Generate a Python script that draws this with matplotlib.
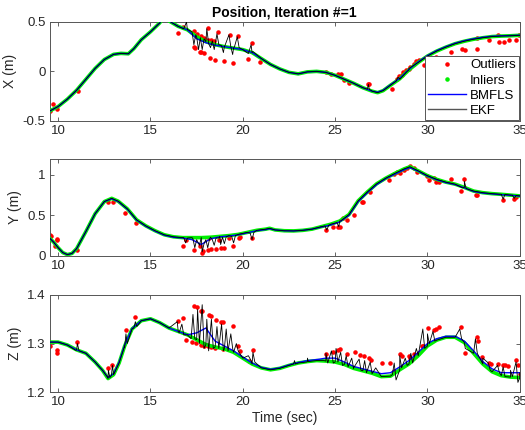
import numpy as np
import matplotlib
matplotlib.use('Agg')
import matplotlib.pyplot as plt
from matplotlib.lines import Line2D

plt.rcParams['font.family'] = ['Liberation Sans', 'DejaVu Sans']
plt.rcParams['axes.unicode_minus'] = False

# Traiettoria filtrata (inliers) per ogni asse
tx = [9.55, 10.0, 10.5, 11.0, 11.5, 12.0, 12.5, 13.0, 13.4, 13.8, 14.1, 14.5, 15.0, 15.5,
      15.75, 16.0, 16.5, 17.0, 17.5, 18.0, 18.5, 19.0, 19.5, 20.0, 20.5, 21.0, 21.5, 22.0,
      22.5, 23.0, 23.5, 24.0, 24.5, 25.0, 25.5, 26.0, 26.5, 27.0, 27.3, 27.6, 28.0, 28.5,
      29.0, 29.5, 30.0, 30.5, 31.0, 31.5, 32.0, 32.5, 33.0, 33.5, 34.0, 34.5, 35.0]
x_in = [-0.40, -0.355, -0.28, -0.19, -0.08, 0.03, 0.12, 0.172, 0.182, 0.178, 0.23, 0.32,
        0.40, 0.49, 0.56, 0.51, 0.455, 0.42, 0.35, 0.30, 0.27, 0.25, 0.235, 0.22, 0.19,
        0.13, 0.07, 0.025, -0.01, -0.025, -0.005, 0.0, -0.01, -0.04, -0.08, -0.12, -0.165,
        -0.2, -0.215, -0.195, -0.14, -0.075, 0.015, 0.09, 0.155, 0.205, 0.245, 0.28, 0.305,
        0.325, 0.34, 0.352, 0.357, 0.36, 0.365]
x_bm = [-0.40, -0.355, -0.28, -0.19, -0.08, 0.03, 0.12, 0.172, 0.182, 0.178, 0.23, 0.32,
        0.40, 0.49, 0.56, 0.51, 0.455, 0.42, 0.33, 0.29, 0.265, 0.25, 0.235, 0.22, 0.19,
        0.13, 0.07, 0.025, -0.01, -0.025, -0.005, 0.0, -0.01, -0.04, -0.08, -0.12, -0.165,
        -0.2, -0.21, -0.19, -0.135, -0.07, 0.02, 0.095, 0.16, 0.21, 0.25, 0.285, 0.31,
        0.33, 0.345, 0.355, 0.36, 0.362, 0.366]

ty = [9.55, 9.75, 10.0, 10.25, 10.5, 10.75, 11.0, 11.5, 12.0, 12.5, 12.9, 13.25, 13.75,
      14.25, 14.75, 15.25, 15.75, 16.25, 16.75, 17.25, 17.75, 18.25, 18.75, 19.25, 19.75,
      20.25, 20.75, 21.25, 21.45, 21.75, 22.25, 22.75, 23.25, 23.75, 24.25, 24.75, 25.25,
      25.75, 26.25, 26.75, 27.25, 27.75, 28.25, 28.75, 29.05, 29.5, 30.0, 30.5, 31.0, 31.5,
      32.0, 32.5, 33.0, 33.5, 34.0, 34.5, 35.0]
y_in = [0.216, 0.17, 0.10, 0.04, 0.015, 0.03, 0.09, 0.30, 0.52, 0.67, 0.71, 0.675, 0.58,
        0.445, 0.37, 0.31, 0.26, 0.235, 0.225, 0.225, 0.225, 0.23, 0.24, 0.25, 0.265, 0.29,
        0.315, 0.33, 0.34, 0.32, 0.31, 0.308, 0.315, 0.33, 0.36, 0.39, 0.43, 0.51, 0.68,
        0.79, 0.89, 0.96, 1.02, 1.075, 1.10, 1.05, 0.99, 0.945, 0.91, 0.885, 0.845, 0.80,
        0.78, 0.768, 0.76, 0.75, 0.74]
y_bm = [0.216, 0.17, 0.10, 0.04, 0.015, 0.03, 0.09, 0.30, 0.52, 0.67, 0.705, 0.67, 0.575,
        0.44, 0.365, 0.305, 0.255, 0.23, 0.22, 0.20, 0.14, 0.21, 0.235, 0.245, 0.26, 0.285,
        0.31, 0.325, 0.335, 0.32, 0.31, 0.308, 0.315, 0.33, 0.355, 0.38, 0.42, 0.50, 0.67,
        0.78, 0.88, 0.955, 1.01, 1.065, 1.09, 1.045, 0.985, 0.94, 0.905, 0.88, 0.84, 0.795,
        0.775, 0.765, 0.755, 0.748, 0.738]

tz = [9.55, 10.0, 10.5, 11.0, 11.5, 12.0, 12.4, 12.7, 13.0, 13.3, 13.6, 14.0, 14.5, 15.0,
      15.5, 16.0, 16.5, 17.0, 17.5, 18.0, 18.5, 19.0, 19.5, 20.0, 20.5, 21.0, 21.5, 22.0,
      22.5, 23.0, 23.5, 24.0, 24.5, 25.0, 25.5, 26.0, 26.5, 27.0, 27.5, 28.0, 28.5, 29.0,
      29.5, 30.0, 30.5, 31.0, 31.5, 32.0, 32.5, 33.0, 33.5, 34.0, 34.5, 35.0]
z_in = [1.303, 1.303, 1.297, 1.287, 1.28, 1.262, 1.245, 1.228, 1.236, 1.26, 1.295, 1.33,
        1.347, 1.351, 1.343, 1.332, 1.325, 1.318, 1.308, 1.298, 1.293, 1.289, 1.282, 1.27,
        1.258, 1.25, 1.246, 1.249, 1.255, 1.26, 1.263, 1.265, 1.264, 1.262, 1.257, 1.249,
        1.244, 1.239, 1.232, 1.233, 1.246, 1.258, 1.275, 1.295, 1.307, 1.313, 1.313, 1.302,
        1.28, 1.258, 1.242, 1.234, 1.231, 1.230]
z_bm = [1.303, 1.303, 1.297, 1.287, 1.28, 1.262, 1.245, 1.23, 1.238, 1.262, 1.297, 1.331,
        1.347, 1.351, 1.343, 1.332, 1.325, 1.318, 1.322, 1.332, 1.305, 1.295, 1.285, 1.272,
        1.26, 1.251, 1.247, 1.25, 1.256, 1.261, 1.265, 1.267, 1.27, 1.27, 1.262, 1.253,
        1.248, 1.243, 1.238, 1.24, 1.252, 1.265, 1.282, 1.3, 1.31, 1.315, 1.315, 1.305,
        1.285, 1.263, 1.248, 1.24, 1.24, 1.24]

# Outliers (tempo, valore)
x_out_t = [9.55, 9.73, 9.95, 11.06, 16.5, 16.78, 17.36, 17.4, 17.68, 17.75, 17.9, 18.12,
           18.23, 18.5, 18.66, 18.96, 19.32, 19.48, 19.75, 20.3, 20.49, 20.95, 17.36, 17.54,
           17.72, 17.9, 18.09, 18.27, 18.45, 24.53, 24.8, 25.13, 25.3, 25.5, 25.75, 26.77,
           26.85, 28.08, 28.35, 28.44, 28.62, 28.7, 28.84, 28.98, 29.07, 29.26, 29.38,
           29.53, 29.8, 30.44, 31.25, 31.85, 32.04, 32.7, 32.7, 33.34, 33.8, 33.9, 34.16,
           34.43, 34.8, 34.98]
x_out_v = [-0.405, -0.327, -0.378, -0.2, 0.39, 0.45, 0.246, 0.24, 0.196, 0.2, 0.19, 0.44,
           0.139, 0.118, 0.40, 0.11, 0.37, 0.084, 0.355, 0.128, 0.287, 0.094, 0.405, 0.38,
           0.355, 0.337, 0.32, 0.314, 0.304, -0.007, -0.024, -0.03, -0.03, -0.084, -0.118,
           -0.132, -0.132, -0.176, -0.074, -0.05, -0.04, -0.007, 0.01, 0.027, 0.044, 0.078,
           0.104, 0.118, 0.06, 0.145, 0.196, 0.23, 0.22, 0.23, 0.34, 0.314, 0.365, 0.297,
           0.297, 0.314, 0.32, 0.365]

y_out_t = [9.55, 9.6, 9.82, 9.93, 9.96, 11.04, 12.72, 12.96, 13.63, 14.2, 16.78, 16.9,
           17.37, 17.69, 17.8, 17.85, 18.09, 18.17, 18.3, 18.54, 18.72, 18.81, 18.99, 19.23,
           19.45, 19.8, 19.85, 20.49, 24.53, 24.9, 25.17, 25.25, 25.4, 25.62, 26.04, 26.44,
           26.5, 26.9, 27.9, 28.17, 28.35, 28.5, 28.71, 28.89, 29.07, 29.26, 29.44, 29.98,
           30.07, 30.35, 30.44, 30.62, 31.26, 31.8, 31.99, 32.62, 32.7, 34.07, 34.7, 34.8]
y_out_v = [0.256, 0.24, 0.122, 0.204, 0.19, 0.073, 0.67, 0.67, 0.53, 0.41, 0.122, 0.195,
           0.073, 0.122, 0.033, 0.06, 0.073, 0.216, 0.085, 0.085, 0.195, 0.094, 0.094, 0.216,
           0.122, 0.216, 0.235, 0.223, 0.325, 0.357, 0.357, 0.36, 0.47, 0.44, 0.5, 0.66,
           0.67, 0.785, 0.935, 1.008, 1.03, 1.02, 1.057, 1.09, 1.11, 1.08, 1.04, 0.988,
           0.935, 0.96, 0.918, 0.906, 0.947, 0.805, 0.955, 0.756, 0.75, 0.69, 0.70, 0.73]

z_out_t = [9.55, 9.91, 9.95, 11.04, 12.72, 12.94, 13.67, 14.18, 16.49, 16.76, 16.9, 17.36,
           17.54, 17.72, 17.8, 18.17, 18.3, 18.54, 18.81, 18.95, 19.45, 17.27, 17.45, 17.72,
           17.9, 18.1, 18.3, 18.5, 18.95, 19.72, 19.86, 20.35, 20.54, 24.53, 24.9, 25.17,
           25.25, 25.62, 26.08, 26.35, 26.59, 26.81, 26.96, 27.54, 27.99, 28.17, 28.53,
           28.6, 28.99, 29.05, 29.26, 29.35, 29.71, 29.75, 30.04, 30.35, 30.45, 30.65, 31.8,
           32.04, 32.7, 32.75, 32.98, 33.34, 33.45, 33.8, 34.07, 34.2, 34.35, 34.77, 34.9,
           35.0]
z_out_v = [1.296, 1.286, 1.28, 1.304, 1.25, 1.256, 1.327, 1.354, 1.346, 1.353, 1.308, 1.378,
           1.375, 1.367, 1.368, 1.359, 1.357, 1.349, 1.344, 1.344, 1.337, 1.303, 1.301, 1.298,
           1.296, 1.294, 1.292, 1.29, 1.288, 1.294, 1.284, 1.265, 1.286, 1.279, 1.282, 1.287,
           1.289, 1.279, 1.282, 1.277, 1.275, 1.27, 1.266, 1.26, 1.26, 1.244, 1.279, 1.275,
           1.275, 1.27, 1.279, 1.275, 1.294, 1.296, 1.332, 1.328, 1.331, 1.334, 1.334, 1.28,
           1.313, 1.305, 1.272, 1.261, 1.258, 1.258, 1.255, 1.255, 1.253, 1.266, 1.255, 1.238]

# Tratti rumorosi dell'EKF (si aggiungono alla traiettoria)
ekf_x_t = [16.8, 16.95, 17.05, 17.25, 17.35, 17.45, 17.6, 17.7, 17.8, 17.9, 18.05, 18.15,
           18.25, 18.35, 18.45, 18.6, 18.7, 18.85, 18.95, 19.05, 19.25, 19.35, 19.45, 19.55,
           19.7, 19.8, 20.3, 20.45, 20.55, 26.75, 26.8, 26.85, 28.3, 28.4, 28.5, 28.9, 29.0]
ekf_x_v = [0.43, 0.50, 0.42, 0.40, 0.27, 0.37, 0.22, 0.34, 0.22, 0.33, 0.43, 0.28, 0.24,
           0.31, 0.22, 0.38, 0.27, 0.26, 0.19, 0.27, 0.37, 0.25, 0.17, 0.25, 0.35, 0.24,
           0.18, 0.27, 0.2, -0.18, -0.13, -0.18, -0.10, -0.06, -0.08, 0.0, 0.03]
ekf_y_t = [16.8, 16.9, 17.0, 17.3, 17.4, 17.5, 17.65, 17.8, 17.9, 18.0, 18.1, 18.2, 18.35,
           18.45, 18.55, 18.7, 18.8, 18.9, 19.0, 19.1, 19.4, 19.5, 19.6, 20.4, 20.5, 20.6,
           24.45, 24.55, 24.65, 25.1, 25.2, 25.3, 31.9, 32.0, 32.1, 34.0, 34.1, 34.2, 34.6,
           34.7, 34.8]
ekf_y_v = [0.225, 0.16, 0.22, 0.21, 0.10, 0.2, 0.13, 0.05, 0.15, 0.2, 0.10, 0.21, 0.2,
           0.13, 0.22, 0.22, 0.14, 0.23, 0.15, 0.235, 0.24, 0.16, 0.25, 0.28, 0.2, 0.29,
           0.37, 0.32, 0.375, 0.41, 0.36, 0.43, 0.84, 0.92, 0.83, 0.76, 0.70, 0.76, 0.75,
           0.71, 0.745]
ekf_z_t = [10.95, 11.04, 11.13, 12.65, 12.72, 12.8, 12.88, 12.94, 13.0, 13.6, 13.67, 13.74,
           14.1, 14.18, 14.26, 16.45, 16.55, 16.7, 16.8, 17.2, 17.3, 17.4, 17.55, 17.65,
           17.8, 17.9, 18.05, 18.15, 18.3, 18.4, 18.6, 18.7, 18.85, 18.95, 19.1, 19.2,
           19.35, 19.45, 19.65, 19.75, 20.3, 20.45, 20.55, 20.65, 22.75, 22.8, 22.85,
           23.45, 23.5, 23.55, 24.4, 24.5, 24.6, 24.8, 24.9, 25.05, 25.15, 25.3, 25.4, 25.6,
           25.7, 25.9, 26.0, 26.3, 26.4, 26.6, 26.7, 26.9, 27.0, 27.2, 28.1, 28.2, 28.3,
           28.5, 28.6, 28.8, 28.9, 29.1, 29.2, 29.4, 29.5, 29.75, 29.85, 30.0, 30.1, 30.3,
           30.4, 31.75, 31.85, 32.05, 32.6, 32.7, 33.0, 33.3, 33.4, 33.8, 33.9, 34.1, 34.2,
           34.5, 34.6, 34.8, 34.9, 35.0]
ekf_z_v = [1.286, 1.30, 1.285, 1.232, 1.245, 1.23, 1.234, 1.255, 1.236, 1.292, 1.32, 1.30,
           1.332, 1.345, 1.335, 1.345, 1.322, 1.34, 1.318, 1.31, 1.36, 1.31, 1.37, 1.30,
           1.38, 1.29, 1.35, 1.285, 1.35, 1.29, 1.335, 1.29, 1.34, 1.285, 1.33, 1.285, 1.32,
           1.29, 1.30, 1.285, 1.275, 1.265, 1.282, 1.262, 1.258, 1.265, 1.258, 1.262, 1.27,
           1.263, 1.265, 1.28, 1.26, 1.285, 1.26, 1.29, 1.262, 1.282, 1.255, 1.275, 1.252,
           1.27, 1.25, 1.268, 1.245, 1.265, 1.24, 1.262, 1.238, 1.25, 1.236, 1.26, 1.225,
           1.275, 1.25, 1.27, 1.255, 1.28, 1.26, 1.29, 1.275, 1.33, 1.29, 1.32, 1.3, 1.325,
           1.305, 1.33, 1.31, 1.29, 1.31, 1.28, 1.27, 1.26, 1.245, 1.255, 1.24, 1.252, 1.232,
           1.245, 1.232, 1.262, 1.22, 1.24]


def merge(t1, v1, t2, v2):
    t = np.concatenate([t1, t2])
    v = np.concatenate([v1, v2])
    idx = np.argsort(t, kind='stable')
    return t[idx], v[idx]


assi = [
    (tx, x_in, x_bm, x_out_t, x_out_v, ekf_x_t, ekf_x_v, 'X (m)', (-0.5, 0.5), [-0.5, 0, 0.5], ['-0.5', '0', '0.5']),
    (ty, y_in, y_bm, y_out_t, y_out_v, ekf_y_t, ekf_y_v, 'Y (m)', (0, 1.2), [0, 0.5, 1], ['0', '0.5', '1']),
    (tz, z_in, z_bm, z_out_t, z_out_v, ekf_z_t, ekf_z_v, 'Z (m)', (1.2, 1.4), [1.2, 1.3, 1.4], ['1.2', '1.3', '1.4']),
]

fig = plt.figure(figsize=(5.25, 4.3), dpi=100)
posizioni = [[0.095, 0.719, 0.895, 0.230],
             [0.095, 0.405, 0.895, 0.226],
             [0.095, 0.088, 0.895, 0.226]]
col_ax = '#262626'

for k, (t, v_in, v_bm, to, vo, te, ve, lab, ylim, yt, ytl) in enumerate(assi):
    ax = fig.add_axes(posizioni[k])
    ax.plot(to, vo, '.', color='#ff0000', ms=4.5, zorder=2)
    ax.plot(t, v_in, '-', color='#00ee00', lw=2.6, zorder=3, solid_capstyle='round')
    ax.plot(t, v_bm, '-', color='#0000ff', lw=1.0, zorder=4)
    te_all, ve_all = merge(np.array(t), np.array(v_in), np.array(te), np.array(ve))
    ax.plot(te_all, ve_all, '-', color='black', lw=0.6, zorder=5)
    ax.set_xlim(9.55, 35)
    ax.set_ylim(*ylim)
    ax.set_xticks([10, 15, 20, 25, 30, 35])
    ax.set_yticks(yt)
    ax.set_yticklabels(ytl)
    ax.set_ylabel(lab, fontsize=10, color=col_ax, labelpad=4)
    ax.tick_params(direction='in', top=True, right=True, length=3, width=0.5,
                   labelsize=9.5, colors=col_ax, pad=3)
    for s in ax.spines.values():
        s.set_color('#555555')
        s.set_linewidth(0.7)
    if k == 0:
        ax.set_title('Position, Iteration #=1', fontsize=10, fontweight='bold', pad=4)
        handles = [Line2D([], [], ls='none', marker='.', color='#ff0000', ms=4.5),
                   Line2D([], [], ls='none', marker='.', color='#00ee00', ms=4.5),
                   Line2D([], [], color='#0000ff', lw=1.0),
                   Line2D([], [], color='#555555', lw=1.0)]
        leg = ax.legend(handles, ['Outliers', 'Inliers', 'BMFLS', 'EKF'], loc='lower right',
                        fontsize=9.5, frameon=True, fancybox=False, framealpha=1,
                        edgecolor='#555555', handlelength=2.9, handletextpad=0.3,
                        labelspacing=0.22, borderpad=0.25, borderaxespad=0.05)
        leg.get_frame().set_linewidth(0.7)
    if k == 2:
        ax.set_xlabel('Time (sec)', fontsize=10, color=col_ax, labelpad=2)

fig.savefig('out.png', dpi=100)
